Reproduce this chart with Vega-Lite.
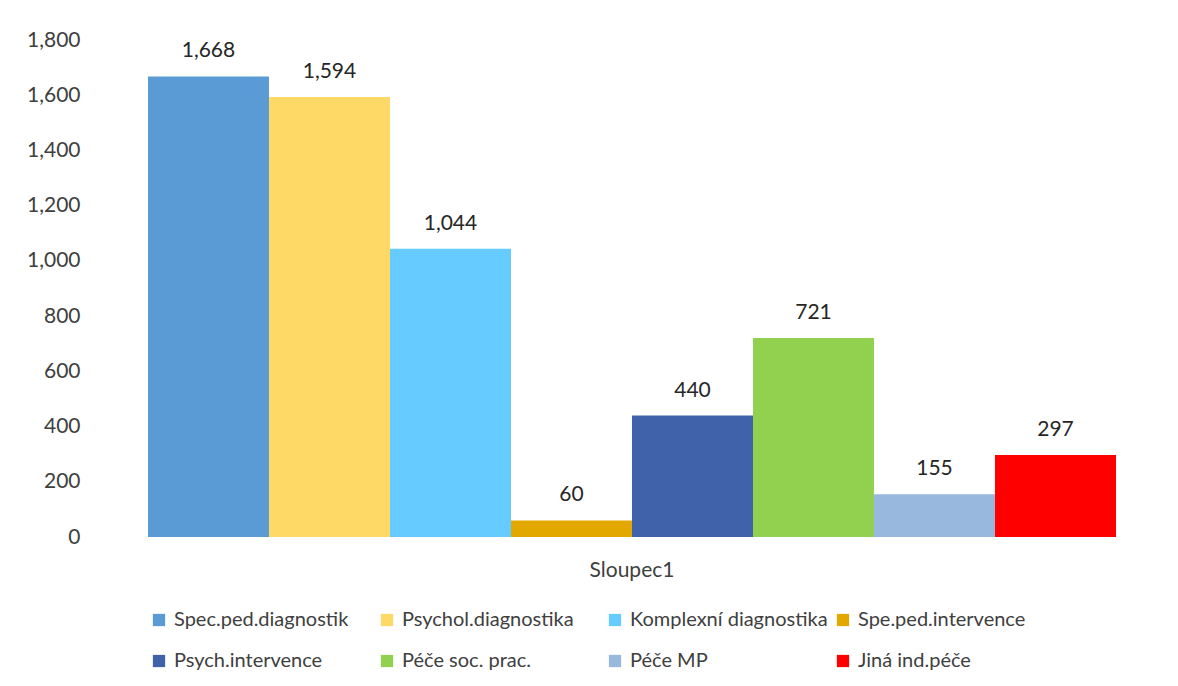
{
  "$schema": "https://vega.github.io/schema/vega-lite/v6.json",
  "autosize": {"type": "none"},
  "width": 1090,
  "height": 497,
  "padding": {"left": 87, "top": 40, "right": 1, "bottom": 149},
  "background": "white",
  "config": {
    "view": {"stroke": null},
    "font": "Lato",
    "axis": {"labelFont": "Lato", "titleFont": "Lato"},
    "legend": {"labelFont": "Lato"}
  },
  "data": {
    "values": [
      {"kategorie": "Sloupec1", "serie": "Spec.ped.diagnostik", "poradi": 1, "hodnota": 1668},
      {"kategorie": "Sloupec1", "serie": "Psychol.diagnostika", "poradi": 2, "hodnota": 1594},
      {"kategorie": "Sloupec1", "serie": "Komplexní diagnostika", "poradi": 3, "hodnota": 1044},
      {"kategorie": "Sloupec1", "serie": "Spe.ped.intervence", "poradi": 4, "hodnota": 60},
      {"kategorie": "Sloupec1", "serie": "Psych.intervence", "poradi": 5, "hodnota": 440},
      {"kategorie": "Sloupec1", "serie": "Péče soc. prac.", "poradi": 6, "hodnota": 721},
      {"kategorie": "Sloupec1", "serie": "Péče MP", "poradi": 7, "hodnota": 155},
      {"kategorie": "Sloupec1", "serie": "Jiná ind.péče", "poradi": 8, "hodnota": 297}
    ]
  },
  "encoding": {
    "x": {
      "field": "kategorie",
      "type": "nominal",
      "scale": {"paddingInner": 0, "paddingOuter": 0.063},
      "axis": {"title": null, "labelAngle": 0, "labelFontSize": 21, "labelColor": "#404040", "labelPadding": 22, "ticks": false, "domain": false}
    },
    "xOffset": {
      "field": "serie",
      "type": "nominal",
      "sort": ["Spec.ped.diagnostik", "Psychol.diagnostika", "Komplexní diagnostika", "Spe.ped.intervence", "Psych.intervence", "Péče soc. prac.", "Péče MP", "Jiná ind.péče"],
      "scale": {"paddingInner": 0, "paddingOuter": 0}
    },
    "y": {
      "field": "hodnota",
      "type": "quantitative",
      "scale": {"domain": [0, 1800], "nice": false},
      "axis": {"title": null, "values": [0, 200, 400, 600, 800, 1000, 1200, 1400, 1600, 1800], "format": ",d", "grid": false, "domain": false, "ticks": false, "labelFontSize": 21, "labelColor": "#404040", "labelPadding": 7}
    }
  },
  "layer": [
    {
      "mark": {"type": "bar"},
      "encoding": {
        "color": {
          "field": "serie",
          "type": "nominal",
          "sort": ["Spec.ped.diagnostik", "Psychol.diagnostika", "Komplexní diagnostika", "Spe.ped.intervence", "Psych.intervence", "Péče soc. prac.", "Péče MP", "Jiná ind.péče"],
          "scale": {
            "domain": ["Spec.ped.diagnostik", "Psychol.diagnostika", "Komplexní diagnostika", "Spe.ped.intervence", "Psych.intervence", "Péče soc. prac.", "Péče MP", "Jiná ind.péče"],
            "range": ["#5B9BD5", "#FFD966", "#66CCFF", "#E2A800", "#3F62AB", "#92D050", "#98B8DE", "#FF0000"]
          },
          "legend": {
            "title": null,
            "orient": "none",
            "legendX": 62,
            "legendY": 570,
            "direction": "horizontal",
            "columns": 4,
            "gridAlign": "all",
            "columnPadding": 5,
            "rowPadding": 21,
            "symbolType": "square",
            "symbolSize": 150,
            "symbolStrokeWidth": 0,
            "labelFontSize": 20,
            "labelColor": "#404040",
            "labelOffset": 5,
            "labelLimit": 300
          }
        }
      }
    },
    {
      "mark": {"type": "text", "baseline": "bottom", "dy": -15, "fontSize": 21, "color": "#262626"},
      "encoding": {
        "text": {"field": "hodnota", "type": "quantitative", "format": ",d"}
      }
    }
  ]
}
